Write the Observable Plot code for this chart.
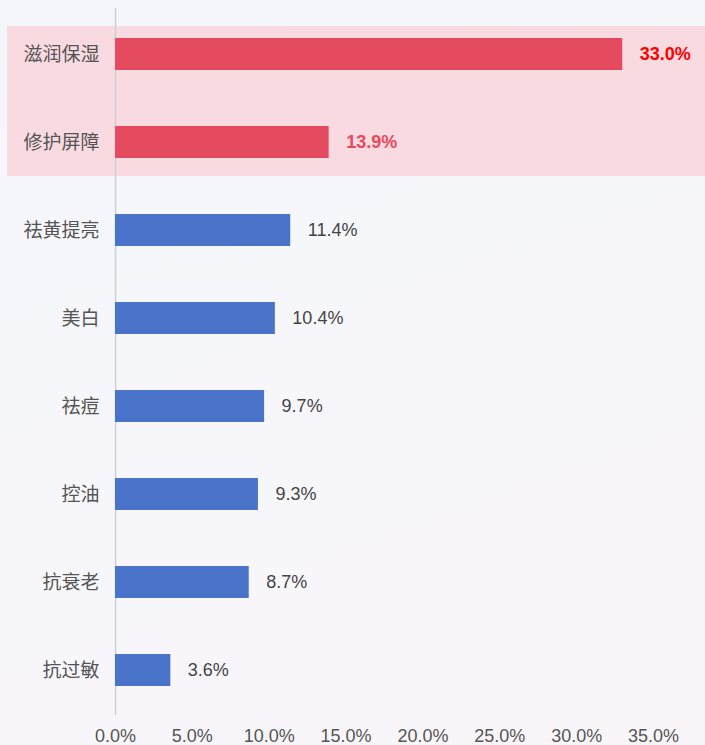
<!DOCTYPE html>
<html>
<head>
<meta charset="utf-8">
<script src="https://cdn.jsdelivr.net/npm/d3@7"></script>
<script src="https://cdn.jsdelivr.net/npm/@observablehq/plot@0.6"></script>
<style>
  html, body { margin: 0; padding: 0; }
  body {
    width: 705px; height: 745px; overflow: hidden;
    background: linear-gradient(160deg, #f3f6fb 0%, #f7f7fb 50%, #f9f5f9 100%);
  }
  #chart svg { display: block; background: transparent; }
</style>
</head>
<body>
<div id="chart"></div>
<script>
const categories = ["滋润保湿", "修护屏障", "祛黄提亮", "美白", "祛痘", "控油", "抗衰老", "抗过敏"];
const values = [33.0, 13.9, 11.4, 10.4, 9.7, 9.3, 8.7, 3.6];
const highlighted = ["滋润保湿", "修护屏障"];
const labelColors = ["#ff0000", "#e54b5e"];
const xTicks = [0, 5, 10, 15, 20, 25, 30, 35];

const data = categories.map((c, i) => ({
  category: c,
  value: values[i],
  hi: highlighted.includes(c),
  labelColor: highlighted.includes(c) ? labelColors[highlighted.indexOf(c)] : "#444"
}));

const cjk = "'Noto Sans CJK SC', 'Noto Sans', sans-serif";
const regular = "'Liberation Sans', Arial, sans-serif";

const chart = Plot.plot({
  width: 705,
  height: 745,
  marginLeft: 115,
  marginRight: 52,
  marginTop: 8,
  marginBottom: 30,
  style: { background: "transparent" },
  x: { domain: [0, 35], axis: null },
  y: { domain: categories, paddingInner: 0.64, paddingOuter: 0.32, axis: null },
  marks: [
    Plot.cell(data.filter(d => d.category === highlighted[0]), {
      y: "category", fill: "#f9dae0",
      insetTop: -12, insetBottom: -58, insetLeft: -108, insetRight: -52
    }),
    Plot.cell(data.filter(d => d.category === highlighted[1]), {
      y: "category", fill: "#f9dae0",
      insetTop: -58, insetBottom: -18, insetLeft: -108, insetRight: -52
    }),
    Plot.ruleX([0], { stroke: "#cfcfd4", strokeWidth: 1.5 }),
    Plot.barX(data, {
      y: "category", x: "value",
      fill: d => d.hi ? "#e54b5e" : "#4a74c9"
    }),
    Plot.text(data.filter(d => d.hi), {
      y: "category", x: "value",
      text: d => d.value.toFixed(1) + "%",
      fill: "labelColor", textAnchor: "start", dx: 17,
      fontSize: 18, fontWeight: "bold", fontFamily: regular
    }),
    Plot.text(data.filter(d => !d.hi), {
      y: "category", x: "value",
      text: d => d.value.toFixed(1) + "%",
      fill: "#444", textAnchor: "start", dx: 17,
      fontSize: 18, fontFamily: regular
    }),
    Plot.axisY({
      tickSize: 0, tickPadding: 16, fontSize: 19, fill: "#555",
      fontFamily: cjk, label: null
    }),
    Plot.axisX(xTicks, {
      tickSize: 0, tickPadding: 14, fontSize: 18, fill: "#555",
      fontFamily: regular, label: null,
      tickFormat: d => d.toFixed(1) + "%"
    })
  ]
});

document.getElementById("chart").appendChild(chart);
</script>
</body>
</html>
